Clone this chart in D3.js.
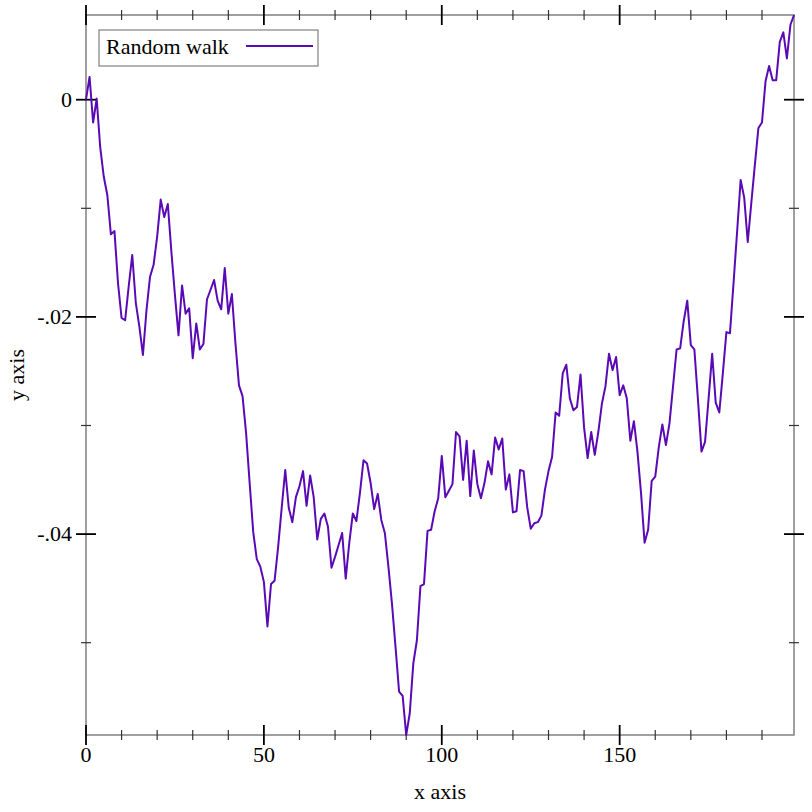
<!DOCTYPE html>
<html>
<head>
<meta charset="utf-8">
<script src="https://cdn.jsdelivr.net/npm/d3@7"></script>
<style>
  body { margin: 0; background: #fff; }
  text { font-family: "Liberation Serif", "DejaVu Serif", serif; }
</style>
</head>
<body>
<div id="chart"></div>
<script>
const width = 812
const height = 812
const margin = { top: 15, right: 18, bottom: 77, left: 86 }

// random walk values, one per step (0..199)
const walk = [
  0, 0.0021, -0.0021, 0.0001, -0.0044, -0.0071, -0.0088, -0.0124, -0.0121, -0.0169,
  -0.0201, -0.0203, -0.0172, -0.0143, -0.0187, -0.0209, -0.0235, -0.0194, -0.0163, -0.0152,
  -0.0126, -0.0092, -0.0108, -0.0096, -0.0140, -0.0180, -0.0217, -0.0171, -0.0197, -0.0192,
  -0.0238, -0.0206, -0.0230, -0.0225, -0.0184, -0.0175, -0.0166, -0.0185, -0.0193, -0.0155,
  -0.0197, -0.0179, -0.0224, -0.0263, -0.0273, -0.0307, -0.0353, -0.0398, -0.0423, -0.0430,
  -0.0444, -0.0485, -0.0446, -0.0443, -0.0412, -0.0376, -0.0341, -0.0376, -0.0389, -0.0366,
  -0.0356, -0.0342, -0.0374, -0.0346, -0.0366, -0.0405, -0.0386, -0.0381, -0.0393, -0.0431,
  -0.0421, -0.0410, -0.0399, -0.0441, -0.0408, -0.0381, -0.0388, -0.0362, -0.0332, -0.0335,
  -0.0353, -0.0377, -0.0363, -0.0387, -0.0399, -0.0430, -0.0464, -0.0504, -0.0545, -0.0549,
  -0.0585, -0.0565, -0.0519, -0.0498, -0.0448, -0.0446, -0.0397, -0.0396, -0.0379, -0.0367,
  -0.0328, -0.0366, -0.0360, -0.0354, -0.0306, -0.0310, -0.0350, -0.0314, -0.0365, -0.0323,
  -0.0354, -0.0367, -0.0353, -0.0333, -0.0345, -0.0311, -0.0322, -0.0312, -0.0359, -0.0345,
  -0.0380, -0.0379, -0.0341, -0.0342, -0.0375, -0.0395, -0.0390, -0.0389, -0.0383, -0.0359,
  -0.0342, -0.0329, -0.0288, -0.0291, -0.0252, -0.0244, -0.0275, -0.0286, -0.0283, -0.0253,
  -0.0302, -0.0330, -0.0306, -0.0327, -0.0306, -0.0280, -0.0264, -0.0234, -0.0249, -0.0237,
  -0.0272, -0.0263, -0.0275, -0.0314, -0.0296, -0.0324, -0.0362, -0.0408, -0.0396, -0.0351,
  -0.0347, -0.0320, -0.0299, -0.0318, -0.0298, -0.0264, -0.0230, -0.0229, -0.0204, -0.0185,
  -0.0226, -0.0230, -0.0276, -0.0324, -0.0315, -0.0275, -0.0234, -0.0279, -0.0288, -0.0252,
  -0.0214, -0.0215, -0.0169, -0.0122, -0.0074, -0.0090, -0.0131, -0.0095, -0.0060, -0.0026,
  -0.0021, 0.0017, 0.0031, 0.0018, 0.0018, 0.0053, 0.0062, 0.0038, 0.0069, 0.0078
]
const steps = walk.map((d, i) => i)

const xMajor = [0, 50, 100, 150]
const xMinor = [10, 20, 30, 40, 60, 70, 80, 90, 110, 120, 130, 140, 160, 170, 180, 190]
const yMajor = [0, -0.02, -0.04]
const yMinor = [-0.01, -0.03, -0.05]
const yLabels = ["0", "-.02", "-.04"]
const seriesName = "Random walk"
const lineColor = "#5a0ab4"

const svg = d3.select("#chart")
  .append("svg")
  .attr("width", width)
  .attr("height", height)

const x = d3.scaleLinear()
  .domain(d3.extent(steps))
  .range([margin.left, width - margin.right])

const y = d3.scaleLinear()
  .domain(d3.extent(walk))
  .range([height - margin.bottom, margin.top])

const x0 = x.range()[0], x1 = x.range()[1]
const y0 = y.range()[0], y1 = y.range()[1]

// frame
svg.append("rect")
  .attr("x", x0).attr("y", y1)
  .attr("width", x1 - x0).attr("height", y0 - y1)
  .attr("fill", "none")
  .attr("stroke", "#808080")
  .attr("stroke-width", 1.5)

// ticks on all four sides
function xTicks(vals, len, color, w) {
  [y0, y1].forEach(yy => {
    svg.append("g").selectAll("line")
      .data(vals).enter().append("line")
      .attr("x1", d => x(d)).attr("x2", d => x(d))
      .attr("y1", yy - len).attr("y2", yy + len)
      .attr("stroke", color).attr("stroke-width", w)
  })
}
function yTicks(vals, len, color, w) {
  [x0, x1].forEach(xx => {
    svg.append("g").selectAll("line")
      .data(vals).enter().append("line")
      .attr("y1", d => y(d)).attr("y2", d => y(d))
      .attr("x1", xx - len).attr("x2", xx + len)
      .attr("stroke", color).attr("stroke-width", w)
  })
}
xTicks(xMinor, 5, "#333", 1.2)
xTicks(xMajor, 10, "#000", 1.8)
yTicks(yMinor, 5, "#333", 1.2)
yTicks(yMajor, 10, "#000", 1.8)

// tick labels
svg.append("g").selectAll("text")
  .data(xMajor).enter().append("text")
  .attr("x", d => x(d))
  .attr("y", y0 + 27)
  .attr("text-anchor", "middle")
  .attr("font-size", 22)
  .text(d => d)

svg.append("g").selectAll("text")
  .data(yMajor).enter().append("text")
  .attr("x", x0 - 14)
  .attr("y", d => y(d) + 7)
  .attr("text-anchor", "end")
  .attr("font-size", 22)
  .text((d, i) => yLabels[i])

// axis titles
svg.append("text")
  .attr("x", (x0 + x1) / 2)
  .attr("y", height - 13)
  .attr("text-anchor", "middle")
  .attr("font-size", 22)
  .text("x axis")

svg.append("text")
  .attr("transform", `translate(24, ${(y0 + y1) / 2}) rotate(-90)`)
  .attr("text-anchor", "middle")
  .attr("font-size", 22)
  .text("y axis")

// the walk
const line = d3.line()
  .x((d, i) => x(steps[i]))
  .y(d => y(d))

svg.append("path")
  .datum(walk)
  .attr("d", line)
  .attr("fill", "none")
  .attr("stroke", lineColor)
  .attr("stroke-width", 2)
  .attr("stroke-linejoin", "round")

// legend
const legend = svg.append("g")
legend.append("rect")
  .attr("x", 99).attr("y", 30)
  .attr("width", 219).attr("height", 36)
  .attr("fill", "#fff")
  .attr("stroke", "#808080")
  .attr("stroke-width", 1.2)
legend.append("text")
  .attr("x", 106).attr("y", 54)
  .attr("font-size", 22)
  .text(seriesName)
legend.append("line")
  .attr("x1", 246).attr("x2", 313)
  .attr("y1", 46).attr("y2", 46)
  .attr("stroke", lineColor)
  .attr("stroke-width", 2)
</script>
</body>
</html>
